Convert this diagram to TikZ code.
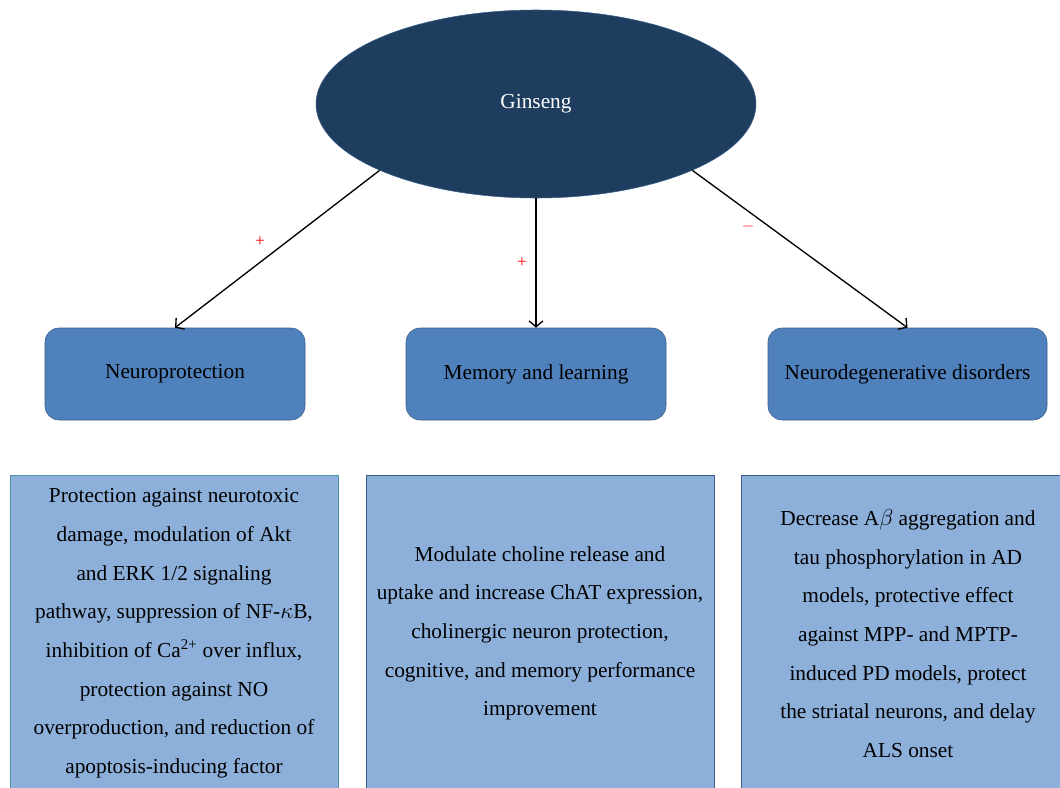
\documentclass[tikz,border=0pt]{standalone}
\usepackage{fontspec}
\setmainfont{Liberation Serif}
\usetikzlibrary{shapes.geometric,arrows.meta}
\definecolor{rootfill}{HTML}{1F3D5E}
\definecolor{edgeblue}{HTML}{385D8A}
\definecolor{effectfill}{HTML}{4F81BD}
\definecolor{detailfill}{HTML}{8DB0DA}
\definecolor{tealedge}{HTML}{4F93A3}
\begin{document}
\begin{tikzpicture}[x=0.75pt,y=-0.75pt,
  ginseng/.style={ellipse,draw=edgeblue,fill=rootfill,text=white,minimum width=330pt,minimum height=141pt},
  effect/.style={draw=edgeblue,fill=effectfill,rounded corners=10.5pt,minimum width=195pt,minimum height=69pt},
  detail/.style={draw=edgeblue,fill=detailfill,align=center,minimum height=237.75pt},
  link/.style={-{Straight Barb[length=4.5pt,width=10.5pt]},line width=1pt,draw=black},
  sign/.style={text=red,font=\fontsize{13pt}{13pt}\selectfont}
]
  \useasboundingbox (0,0) rectangle (1060,788);
  \clip (0,0) rectangle (1060,788);
  \tikzset{every node/.append style={font=\fontsize{16pt}{29pt}\selectfont}}
  \node[ginseng] (gin) at (536,104) {Ginseng};
  \node[effect] (neuro) at (175,374) {Neuroprotection};
  \node[effect] (memory) at (536,374) {Memory and learning};
  \node[effect,minimum width=209.25pt] (disorder) at (907.5,374) {Neurodegenerative disorders};
  \draw[link] (gin.203) -- (neuro.north);
  \draw[link] (gin.south) -- (memory.north);
  \draw[link] (gin.337) -- (disorder.north);
  \node[sign] (plusa) at (260,242) {+};
  \node[sign] (plusb) at (522,263) {+};
  \node[sign] (minus) at (748,226) {$-$};
  \node[detail,draw=tealedge,minimum width=246pt] (neurotext) at (174,633.5)
    {Protection against neurotoxic\\damage, modulation of Akt\\and ERK 1/2 signaling\\pathway, suppression of NF-$\kappa$B,\\inhibition of Ca\textsuperscript{2+} over influx,\\protection against NO\\overproduction, and reduction of\\apoptosis-inducing factor};
  \node[detail,minimum width=261pt] (memorytext) at (540,633.5)
    {Modulate choline release and\\uptake and increase ChAT expression,\\cholinergic neuron protection,\\cognitive, and memory performance\\improvement};
  \node[detail,minimum width=250.5pt] (disordertext) at (908,633.5)
    {Decrease A$\beta$ aggregation and\\tau phosphorylation in AD\\models, protective effect\\against MPP- and MPTP-\\induced PD models, protect\\the striatal neurons, and delay\\ALS onset};
\end{tikzpicture}
\end{document}
